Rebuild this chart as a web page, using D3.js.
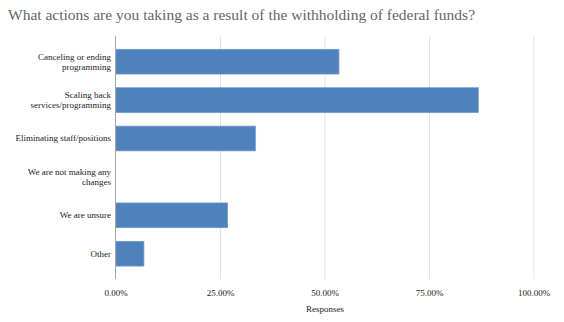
<!DOCTYPE html>
<html>
<head>
<meta charset="utf-8">
<script src="https://cdn.jsdelivr.net/npm/d3@7"></script>
<style>
  body { margin: 0; background: #fff; }
</style>
</head>
<body>
<div id="chart"></div>
<script>
const categories = [
  ['Canceling or ending', 'programming'],
  ['Scaling back', 'services/programming'],
  ['Eliminating staff/positions'],
  ['We are not making any', 'changes'],
  ['We are unsure'],
  ['Other']
];
const values = [53.33, 86.67, 33.33, 0, 26.67, 6.67];
const xTicks = [0, 25, 50, 75, 100];
const title = 'What actions are you taking as a result of the withholding of federal funds?';

const width = 564, height = 322;
const serif = '"Times New Roman"';

const svg = d3.select('#chart')
  .append('svg')
  .attr('width', width)
  .attr('height', height);

const x = d3.scaleLinear()
  .domain([0, 100])
  .range([116, 534]);

const y = d3.scaleBand()
  .domain(d3.range(categories.length))
  .range([42.5, 272.9])
  .paddingInner(0.357)
  .paddingOuter(0.178);

// gridlines
svg.append('g')
  .selectAll('line')
  .data(xTicks.slice(1))
  .join('line')
  .attr('x1', d => x(d)).attr('x2', d => x(d))
  .attr('y1', 36).attr('y2', 279)
  .attr('stroke', '#e3e3e3')
  .attr('stroke-width', 1);

// bars
const data = values.map((v, i) => ({ i, v }));
svg.append('g')
  .selectAll('rect')
  .data(data.filter(d => d.v > 0))
  .join('rect')
  .attr('x', x(0))
  .attr('y', d => y(d.i))
  .attr('width', d => x(d.v) - x(0))
  .attr('height', y.bandwidth())
  .attr('fill', '#4f81bd')
  .attr('stroke', '#6d97cb')
  .attr('stroke-width', 0.8);

// y axis line
svg.append('line')
  .attr('x1', x(0) - 0.5).attr('x2', x(0) - 0.5)
  .attr('y1', 36).attr('y2', 279)
  .attr('stroke', '#a6a6a6')
  .attr('stroke-width', 1);

// x tick labels
const tickLabels = xTicks.map(d => ({ x: x(d), s: d3.format('.2f')(d) + '%' }));
svg.append('g')
  .selectAll('text')
  .data(tickLabels)
  .join('text')
  .attr('x', d => d.x)
  .attr('y', 296)
  .attr('text-anchor', 'middle')
  .attr('fill', '#222')
  .attr('font-family', serif)
  .style('font-family', serif)
  .attr('font-size', 9)
  .text(d => d.s);

svg.append('text')
  .attr('x', x(50))
  .attr('y', 312)
  .attr('text-anchor', 'middle')
  .attr('fill', '#222')
  .attr('font-family', serif)
  .style('font-family', serif)
  .attr('font-size', 9)
  .text('Responses');

svg.append('text')
  .attr('x', 8)
  .attr('y', 20)
  .attr('fill', '#666')
  .attr('font-family', serif)
  .style('font-family', serif)
  .attr('font-size', 15.5)
  .text(title);

// category labels, one text per line
const lh = 10;
const lineData = [];
categories.forEach((lines, i) => {
  lines.forEach((s, k) => {
    lineData.push({ i, s, off: (k - (lines.length - 1) / 2) * lh });
  });
});
svg.append('g')
  .selectAll('text')
  .data(lineData)
  .join('text')
  .attr('x', 111)
  .attr('y', d => y(d.i) + y.bandwidth() / 2 + d.off + 3)
  .attr('text-anchor', 'end')
  .attr('fill', '#222')
  .attr('font-family', serif)
  .style('font-family', serif)
  .attr('font-size', 9)
  .text(d => d.s);
</script>
</body>
</html>
